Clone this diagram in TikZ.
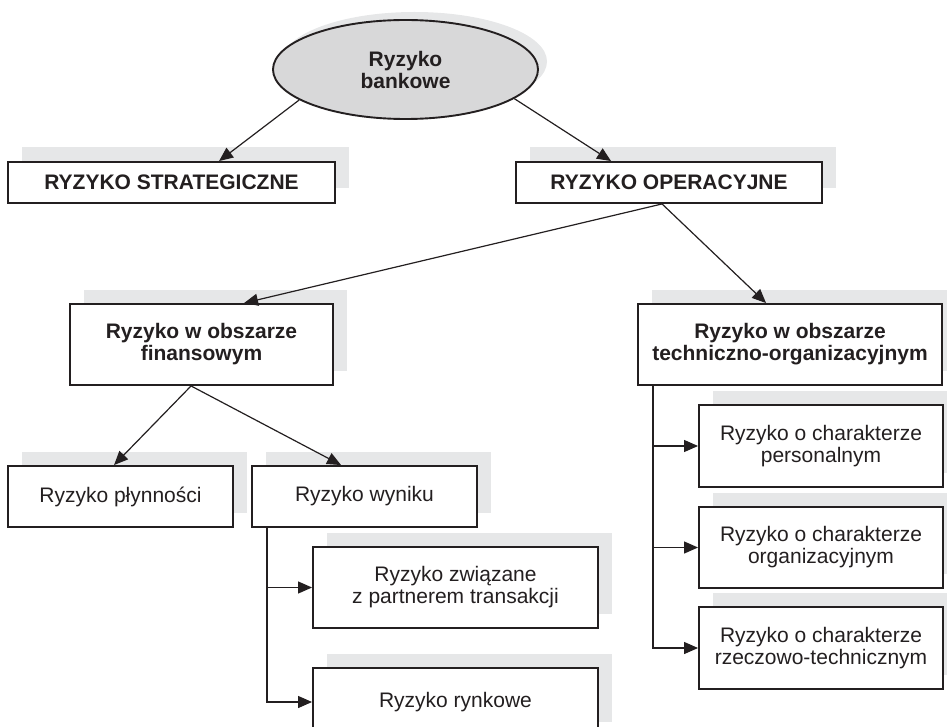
\documentclass[tikz,border=0pt]{standalone}
\usepackage{fontspec}
\setmainfont{Liberation Sans}
\usetikzlibrary{arrows.meta,shapes.geometric,shadows}
\definecolor{ink}{HTML}{231F20}
\definecolor{shade}{HTML}{E6E7E8}
\definecolor{ellfill}{HTML}{D8D8D9}
\begin{document}
\begin{tikzpicture}[x=1pt,y=-1pt,
  txt/.style={text=ink, align=center, font=\fontsize{21}{22}\selectfont},
  box/.style={txt, draw=ink, line width=1.9pt, fill=white, inner sep=0pt,
    drop shadow={shadow xshift=13.5pt, shadow yshift=14.5pt, fill=shade, opacity=1}},
  bbox/.style={box, font=\fontsize{21}{22}\selectfont\bfseries},
  conn/.style={draw=ink, line width=1.2pt, -{Triangle[length=14pt,width=12pt]}}]
\useasboundingbox (0,0) rectangle (947,727);
\clip (0,0) rectangle (947,727);

% top ellipse
\node[ellipse, draw=ink, line width=1.9pt, fill=ellfill, inner sep=0pt,
  minimum width=265pt, minimum height=99pt, txt, font=\fontsize{21}{22}\selectfont\bfseries,
  drop shadow={shadow xshift=9pt, shadow yshift=8pt, fill=shade, opacity=1}]
  (ell) at (405.5,69.5) {Ryzyko\\bankowe};

% level 1
\node[bbox, minimum width=327pt, minimum height=41pt] (strat) at (171.5,182.5) {RYZYKO STRATEGICZNE};
\node[bbox, minimum width=306pt, minimum height=41pt] (oper) at (669,182.5) {RYZYKO OPERACYJNE};

% level 2
\node[bbox, minimum width=263pt, minimum height=81pt] (fin) at (201.5,344.5) {Ryzyko w obszarze\\finansowym};
\node[bbox, minimum width=304pt, minimum height=81pt] (tech) at (790,344.5) {Ryzyko w obszarze\\techniczno-organizacyjnym};

% financial children
\node[box, minimum width=225pt, minimum height=61pt] (plyn) at (120.5,496.5) {Ryzyko płynności};
\node[box, minimum width=225pt, minimum height=61pt] (wyn) at (364.5,496.5) {Ryzyko wyniku};
\node[box, minimum width=285pt, minimum height=81pt] (zwi) at (455.5,587.5) {Ryzyko związane\\z partnerem transakcji};
\node[box, minimum width=285pt, minimum height=68pt] (rynk) at (455.5,702) {Ryzyko rynkowe};

% technical children
\node[box, minimum width=244pt, minimum height=82pt] (pers) at (821,446) {Ryzyko o charakterze\\personalnym};
\node[box, minimum width=244pt, minimum height=81pt] (org) at (821,547.5) {Ryzyko o charakterze\\organizacyjnym};
\node[box, minimum width=244pt, minimum height=82pt] (rzecz) at (821,648) {Ryzyko o charakterze\\rzeczowo-technicznym};

% connector end points
\coordinate (strat-in) at ([xshift=212pt]strat.north west);
\coordinate (oper-in) at ([xshift=96pt]oper.north west);
\coordinate (oper-out) at ([xshift=147pt]oper.south west);
\coordinate (fin-in) at ([xshift=175pt]fin.north west);
\coordinate (tech-in) at ([xshift=129pt]tech.north west);
\coordinate (fin-out) at ([xshift=122pt]fin.south west);
\coordinate (plyn-in) at ([xshift=107pt]plyn.north west);
\coordinate (wyn-in) at ([xshift=90pt]wyn.north west);
\coordinate (wyn-out) at ([xshift=16pt]wyn.south west);
\coordinate (tech-out) at ([xshift=16pt]tech.south west);

\draw[conn] (ell.196) -- (strat-in);
\draw[conn] (ell.345) -- (oper-in);
\draw[conn] (oper-out) -- (fin-in);
\draw[conn] (oper-out) -- (tech-in);
\draw[conn] (fin-out) -- (plyn-in);
\draw[conn] (fin-out) -- (wyn-in);
\draw[conn] (wyn-out) |- (zwi.west);
\draw[conn] (wyn-out) |- (rynk.west);
\draw[conn] (tech-out) |- (pers.west);
\draw[conn] (tech-out) |- (org.west);
\draw[conn] (tech-out) |- (rzecz.west);
\end{tikzpicture}
\end{document}
